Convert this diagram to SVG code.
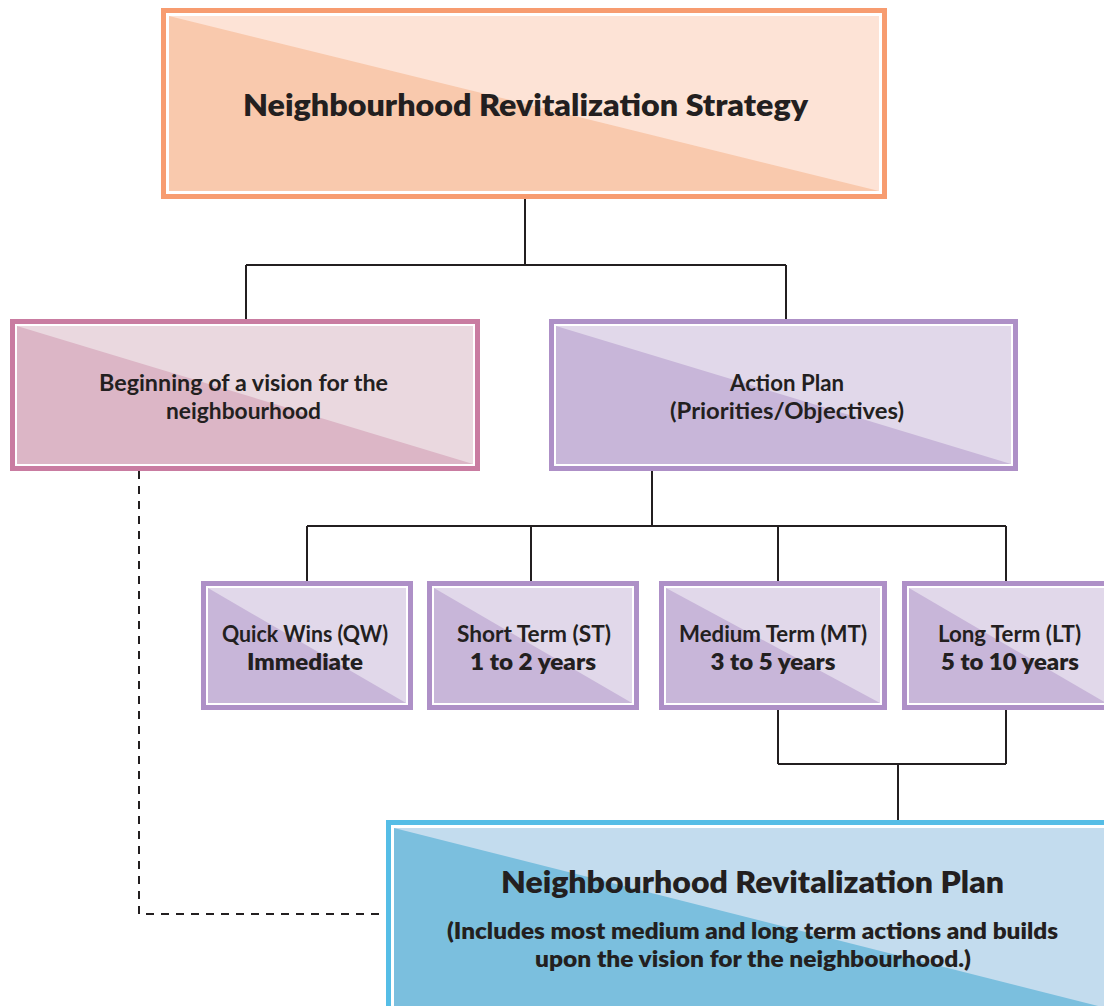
<svg xmlns="http://www.w3.org/2000/svg" width="1104" height="1006" viewBox="0 0 1104 1006">
<style>
.conn{stroke:#231f20;stroke-width:2;fill:none}
.dash{stroke-dasharray:8 7}
.wh{fill:#ffffff}
text{font-family:Lato,"Open Sans","Liberation Sans",sans-serif;fill:#231f20;text-anchor:middle}
.t-title{font-size:31px;font-weight:800}
.t-mid{font-size:22px;font-weight:700}
.t-s1{font-size:23px;font-weight:700}
.t-s2{font-size:23px;font-weight:800}
.t-sub{font-size:23px;font-weight:800}
.or-b{fill:#f79c70}.or-d{fill:#f9c9ad}.or-l{fill:#fde3d6}
.pk-b{fill:#c97ca1}.pk-d{fill:#dcb6c6}.pk-l{fill:#ead8df}
.pu-b{fill:#ae90c7}.pu-d{fill:#c8b6d9}.pu-l{fill:#e1d8ea}
.bl-b{fill:#55bde6}.bl-d{fill:#7bbfde}.bl-l{fill:#c3dcee}
</style>
<rect width="1104" height="1006" fill="#ffffff"/>
<g id="connectors">
<path class="conn" d="M525,199 V265 M246,265 H786 M246,265 V321 M786,265 V321"/>
<path class="conn" d="M652,471 V526 M307,526 H1006 M307,526 V582 M531,526 V582 M778,526 V582 M1006,526 V582"/>
<path class="conn" d="M778,709 V764 M1006,709 V764 M778,764 H1006 M898,764 V821"/>
<path class="conn dash" d="M139,471 V914 H386"/>
</g>
<g id="strategy">
<rect class="or-b" x="161" y="8" width="726" height="191"/>
<rect class="wh" x="166" y="13" width="716" height="181"/>
<rect class="or-d" x="169" y="16" width="710" height="175"/>
<polygon class="or-l" points="169,16 879,16 879,191"/>
<text class="t-title" x="525.5" y="116" textLength="565" lengthAdjust="spacingAndGlyphs">Neighbourhood Revitalization Strategy</text>
</g>
<g id="vision">
<rect class="pk-b" x="10" y="319" width="470" height="152"/>
<rect class="wh" x="15" y="324" width="460" height="142"/>
<rect class="pk-d" x="17" y="326" width="456" height="138"/>
<polygon class="pk-l" points="17,326 473,326 473,464"/>
<text class="t-mid" x="243.5" y="391" textLength="289" lengthAdjust="spacingAndGlyphs">Beginning of a vision for the</text>
<text class="t-mid" x="243.5" y="419" textLength="155" lengthAdjust="spacingAndGlyphs">neighbourhood</text>
</g>
<g id="action-plan">
<rect class="pu-b" x="549" y="319" width="469" height="152"/>
<rect class="wh" x="554" y="324" width="459" height="142"/>
<rect class="pu-d" x="556" y="326" width="455" height="138"/>
<polygon class="pu-l" points="556,326 1011,326 1011,464"/>
<text class="t-mid" x="787" y="391" textLength="114" lengthAdjust="spacingAndGlyphs">Action Plan</text>
<text class="t-mid" x="787" y="419" textLength="234" lengthAdjust="spacingAndGlyphs">(Priorities/Objectives)</text>
</g>
<g id="quick-wins">
<rect class="pu-b" x="201" y="581" width="212" height="129"/>
<rect class="wh" x="206" y="586" width="202" height="119"/>
<rect class="pu-d" x="208" y="588" width="198" height="115"/>
<polygon class="pu-l" points="208,588 406,588 406,703"/>
<text class="t-s1" x="305" y="642" textLength="166" lengthAdjust="spacingAndGlyphs">Quick Wins (QW)</text>
<text class="t-s2" x="305" y="670" textLength="116" lengthAdjust="spacingAndGlyphs">Immediate</text>
</g>
<g id="short-term">
<rect class="pu-b" x="427" y="581" width="212" height="129"/>
<rect class="wh" x="432" y="586" width="202" height="119"/>
<rect class="pu-d" x="434" y="588" width="198" height="115"/>
<polygon class="pu-l" points="434,588 632,588 632,703"/>
<text class="t-s1" x="534" y="642" textLength="154" lengthAdjust="spacingAndGlyphs">Short Term (ST)</text>
<text class="t-s2" x="533" y="670" textLength="126" lengthAdjust="spacingAndGlyphs">1 to 2 years</text>
</g>
<g id="medium-term">
<rect class="pu-b" x="659" y="581" width="228" height="129"/>
<rect class="wh" x="664" y="586" width="218" height="119"/>
<rect class="pu-d" x="666" y="588" width="214" height="115"/>
<polygon class="pu-l" points="666,588 880,588 880,703"/>
<text class="t-s1" x="773" y="642" textLength="188" lengthAdjust="spacingAndGlyphs">Medium Term (MT)</text>
<text class="t-s2" x="773" y="670" textLength="125" lengthAdjust="spacingAndGlyphs">3 to 5 years</text>
</g>
<g id="long-term">
<rect class="pu-b" x="902" y="581" width="211" height="129"/>
<rect class="wh" x="907" y="586" width="201" height="119"/>
<rect class="pu-d" x="909" y="588" width="197" height="115"/>
<polygon class="pu-l" points="909,588 1106,588 1106,703"/>
<text class="t-s1" x="1009.5" y="642" textLength="143" lengthAdjust="spacingAndGlyphs">Long Term (LT)</text>
<text class="t-s2" x="1010" y="670" textLength="138" lengthAdjust="spacingAndGlyphs">5 to 10 years</text>
</g>
<g id="revitalization-plan">
<rect class="bl-b" x="386" y="820" width="728" height="196"/>
<rect class="wh" x="391" y="825" width="718" height="186"/>
<rect class="bl-d" x="394" y="828" width="712" height="180"/>
<polygon class="bl-l" points="394,828 1106,828 1106,1008"/>
<text class="t-title" x="752.5" y="893" textLength="503" lengthAdjust="spacingAndGlyphs">Neighbourhood Revitalization Plan</text>
<text class="t-sub" x="752.5" y="939" textLength="611" lengthAdjust="spacingAndGlyphs">(Includes most medium and long term actions and builds</text>
<text class="t-sub" x="753" y="967" textLength="436" lengthAdjust="spacingAndGlyphs">upon the vision for the neighbourhood.)</text>
</g>
</svg>
